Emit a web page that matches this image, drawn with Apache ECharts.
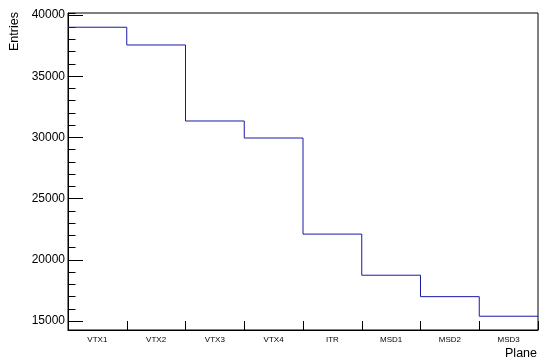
<!DOCTYPE html>
<html>
<head>
<meta charset="utf-8">
<script src="https://cdn.jsdelivr.net/npm/echarts@6/dist/echarts.min.js"></script>
<style>
html,body{margin:0;padding:0;background:#fff;}
#chart{width:539px;height:363px;}
</style>
</head>
<body>
<div id="chart"></div>
<script>
// Data
const categories = ['VTX1','VTX2','VTX3','VTX4','ITR','MSD1','MSD2','MSD3'];
const entries = [39000, 37550, 31340, 29950, 22100, 18740, 16990, 15390];
const yMin = 14265;
const yMax = 40163;

const stepData = entries.map((v, i) => [i, v]);
stepData.push([categories.length, entries[entries.length - 1]]);

const font = 'Liberation Sans, Arial, Helvetica, sans-serif';
const chart = echarts.init(document.getElementById('chart'), null, {renderer: 'canvas'});
chart.setOption({
  animation: false,
  backgroundColor: '#ffffff',
  grid: {left: 68, top: 13, right: 1, bottom: 33, show: true, borderColor: '#000', borderWidth: 1, backgroundColor: 'transparent'},
  xAxis: [
    {
      type: 'value', min: 0, max: categories.length, interval: 1, position: 'bottom',
      axisLine: {show: true, lineStyle: {color: '#000', width: 1}},
      axisTick: {show: true, inside: true, length: 9, lineStyle: {color: '#000'}},
      axisLabel: {show: false},
      splitLine: {show: false}
    },
    {
      type: 'category', data: categories, position: 'bottom', boundaryGap: true,
      axisLine: {show: false}, axisTick: {show: false}, splitLine: {show: false},
      axisLabel: {show: true, fontSize: 8, color: '#000', fontFamily: font, margin: 6, interval: 0}
    }
  ],
  yAxis: [
    {
      type: 'value', min: yMin, max: yMax, splitNumber: 5,
      axisLine: {show: true, lineStyle: {color: '#000', width: 1}},
      axisTick: {show: true, inside: true, length: 15, lineStyle: {color: '#000'}},
      axisLabel: {show: true, fontSize: 12, color: '#000', fontFamily: font, margin: 3,
        showMinLabel: false, showMaxLabel: false,
        formatter: v => (v % 5000 === 0 ? String(v) : '')},
      splitLine: {show: false}
    },
    {
      type: 'value', min: yMin, max: yMax, splitNumber: 26, position: 'left',
      axisLine: {show: false},
      axisTick: {show: true, inside: true, length: 7.5, lineStyle: {color: '#000'}},
      axisLabel: {show: false},
      splitLine: {show: false}
    }
  ],
  graphic: [
    {type: 'text', right: 2, top: 347, style: {text: 'Plane', fontSize: 12.5, fontFamily: font, fill: '#000'}},
    {type: 'text', x: 8, y: 51, rotation: Math.PI / 2, style: {text: 'Entries', fontSize: 12.5, fontFamily: font, fill: '#000', textAlign: 'left', textVerticalAlign: 'top'}}
  ],
  series: [{
    type: 'line', xAxisIndex: 0, yAxisIndex: 0, step: 'end', data: stepData,
    symbol: 'none', lineStyle: {color: '#1a1aa8', width: 1}, silent: true
  }]
});
</script>
</body>
</html>
